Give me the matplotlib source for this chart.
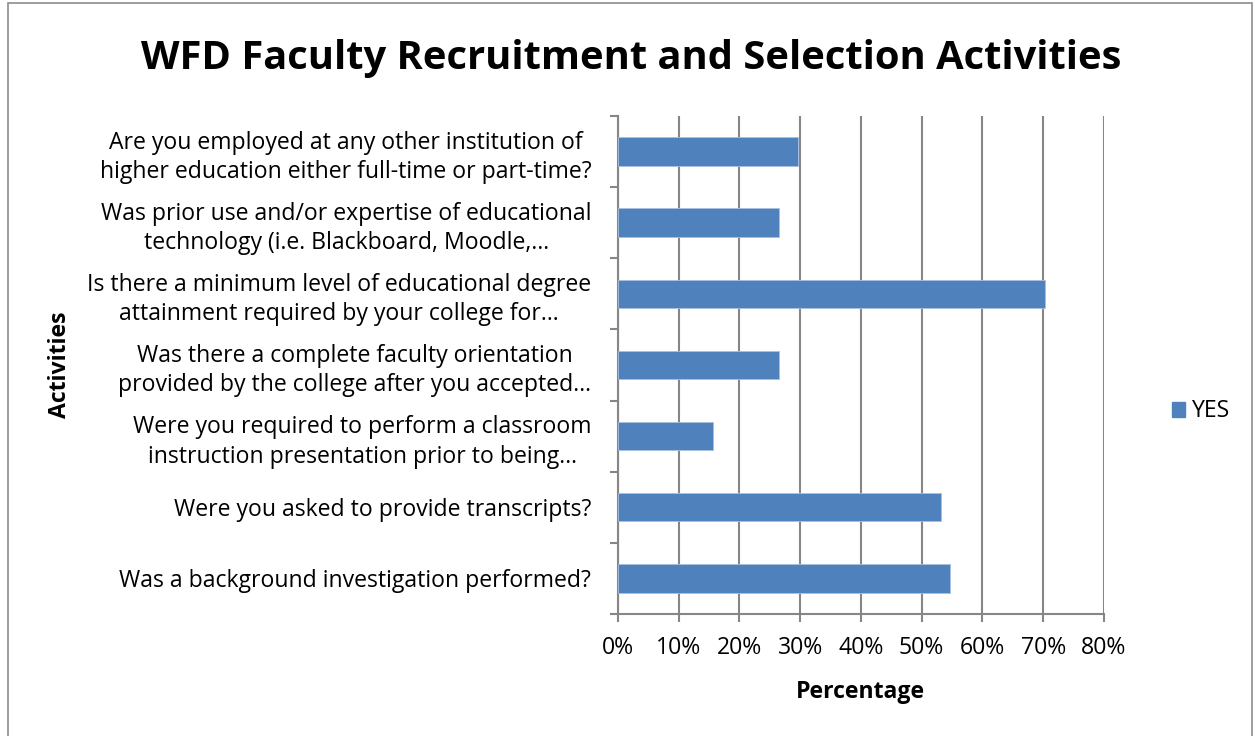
import matplotlib
matplotlib.use("Agg")
import matplotlib.pyplot as plt
from matplotlib.patches import Rectangle, Patch
from matplotlib.ticker import FuncFormatter, FixedLocator

plt.rcParams['font.family'] = ['Open Sans', 'DejaVu Sans']

categories = [
    "Are you employed at any other institution of\nhigher education either full-time or part-time?",
    "Was prior use and/or expertise of educational\ntechnology (i.e. Blackboard, Moodle,\u2026",
    "Is there a minimum level of educational degree\nattainment required by your college for\u2026",
    "Was there a complete faculty orientation\nprovided by the college after you accepted\u2026",
    "Were you required to perform a classroom\ninstruction presentation prior to being\u2026",
    "Were you asked to provide transcripts?",
    "Was a background investigation performed?",
]
yes_values = [0.296, 0.266, 0.703, 0.266, 0.156, 0.531, 0.547]
x_ticks = [0, 0.1, 0.2, 0.3, 0.4, 0.5, 0.6, 0.7, 0.8]

BAR = '#4F81BD'
GRID = '#868686'
FS = 16.6

fig = plt.figure(figsize=(12.55, 7.36), dpi=100)
fig.patches.append(Rectangle((0.0065, -0.01), 0.991, 1.0065, transform=fig.transFigure,
                             fill=False, edgecolor='#8c8c8c', linewidth=1.2))
ax = fig.add_axes([0.4922, 0.1658, 0.3875, 0.6766])

ypos = list(range(len(categories)))
ax.barh(ypos, yes_values, height=0.4, color=BAR, edgecolor='#a9c0de', linewidth=0.6,
        label='YES', zorder=3)

ax.set_xlim(0, 0.8)
ax.set_ylim(len(categories) - 0.5, -0.5)
ax.set_xticks(x_ticks)
ax.xaxis.set_major_formatter(FuncFormatter(lambda v, p: f"{round(v*100)}%"))
ax.grid(axis='x', color=GRID, linewidth=1.5, zorder=0)
ax.set_axisbelow(True)

ax.yaxis.set_major_locator(FixedLocator([i - 0.5 for i in range(len(categories) + 1)]))
ax.yaxis.set_major_formatter(FuncFormatter(lambda v, p: ""))
ax.yaxis.set_minor_locator(FixedLocator(ypos))
ax.set_yticklabels(categories, minor=True, fontsize=FS, multialignment='center',
                   linespacing=1.3)
ax.tick_params(axis='y', which='major', length=6, width=1.5, color=GRID, direction='out')
ax.tick_params(axis='y', which='minor', length=0, pad=19)
ax.tick_params(axis='x', length=6, width=1.5, color=GRID, direction='out',
               labelsize=FS, pad=10)

for s in ['top', 'right']:
    ax.spines[s].set_visible(False)
for s in ['left', 'bottom']:
    ax.spines[s].set_color(GRID)
    ax.spines[s].set_linewidth(1.5)

ax.set_xlabel('Percentage', fontsize=FS, fontweight='bold', labelpad=14)
fig.text(0.048, 0.504, 'Activities', rotation=90, fontsize=FS, fontweight='bold',
         ha='center', va='center')

fig.text(0.503, 0.92, 'WFD Faculty Recruitment and Selection Activities', fontsize=28.7,
         fontweight='bold', ha='center', va='center')

fig.legend(handles=[Patch(color=BAR, label='YES')], loc='center left',
           bbox_to_anchor=(0.917, 0.441), frameon=False, fontsize=FS,
           handlelength=0.6, handleheight=0.6, handletextpad=0.3)

fig.savefig('out.png', dpi=100)
